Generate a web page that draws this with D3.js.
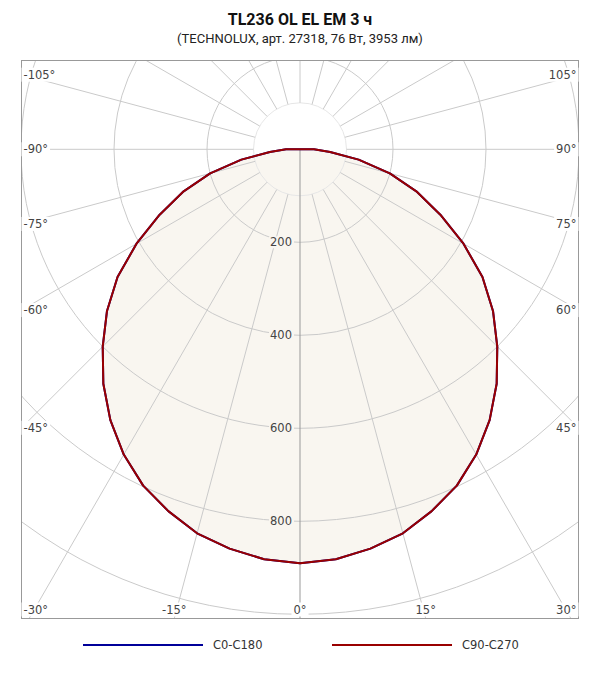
<!DOCTYPE html>
<html><head><meta charset="utf-8">
<script src="https://cdn.jsdelivr.net/npm/d3@7"></script>
<style>body{margin:0;background:#fff}svg{display:block}</style>
</head><body>
<script>
// ---- data ----
const title = "TL236 OL EL EM 3 ч";
const subtitle = "(TECHNOLUX, арт. 27318, 76 Вт, 3953 лм)";
const angles = [0,5,10,15,20,25,30,35,40,45,50,55,60,65,70,75,80,85,90];
const c0c180 = [890,885,872,855,828,798,758,711,658,600,542,479,406,333,268,200,128,65,30];
const c90c270 = [890,885,872,855,828,798,758,711,658,600,542,479,406,333,268,200,128,65,30];
const ringValues = [200,400,600,800,1000,1200];
const ringLabels = [200,400,600,800];
const angleLabels = [-105,-90,-75,-60,-45,-30,-15,0,15,30,45,60,75,90,105];
const seriesNames = ["C0-C180","C90-C270"];
const seriesColors = ["#000099","#990000"];

// ---- layout ----
const W = 600, H = 680;
const cx = 300, cy = 149.3;
const frame = {x0: 21.5, y0: 60.5, x1: 578.5, y1: 618.5};
const fillColor = "#f9f6f0";
const r = d3.scaleLinear().domain([0, 1000]).range([0, 465]);

const svg = d3.select("body").append("svg").attr("width", W).attr("height", H);

svg.append("text").attr("x", 300).attr("y", 25).attr("text-anchor", "middle")
  .attr("font-family", "Roboto").attr("font-weight", "bold").attr("font-size", 16)
  .attr("fill", "#111").text(title);
svg.append("text").attr("x", 300).attr("y", 43).attr("text-anchor", "middle")
  .attr("font-family", "Roboto").attr("font-size", 13)
  .attr("fill", "#222").text(subtitle);

svg.append("defs").append("clipPath").attr("id", "clip")
  .append("rect").attr("x", frame.x0).attr("y", frame.y0)
  .attr("width", frame.x1 - frame.x0).attr("height", frame.y1 - frame.y0);

const g = svg.append("g").attr("clip-path", "url(#clip)");
const plot = g.append("g").attr("transform", `translate(${cx},${cy})`);

// full symmetric curve from -90 to 90
function fullSeries(vals) {
  const pts = [];
  for (let i = angles.length - 1; i >= 0; i--) pts.push([-angles[i], vals[i]]);
  for (let i = 1; i < angles.length; i++) pts.push([angles[i], vals[i]]);
  return pts;
}
const toRad = a => Math.PI - a * Math.PI / 180;
const radial = d3.lineRadial().angle(d => toRad(d[0])).radius(d => r(d[1])).curve(d3.curveLinearClosed);

// fill
plot.append("path").attr("d", radial(fullSeries(c90c270))).attr("fill", fillColor).attr("stroke", "none");

// rings
plot.append("circle").attr("r", r(100)).attr("fill", "none").attr("stroke", "#e6e6e6").attr("stroke-width", 1);
plot.selectAll("circle.ring").data(ringValues).join("circle").attr("class", "ring")
  .attr("r", d => r(d)).attr("fill", "none").attr("stroke", "#cacaca").attr("stroke-width", 1);

// radial lines every 15 deg
const spokeAngles = d3.range(-165, 181, 15);
plot.selectAll("line.spoke").data(spokeAngles.filter(a => a !== 0)).join("line").attr("class", "spoke")
  .attr("x1", a => r(100) * Math.sin(a * Math.PI / 180))
  .attr("y1", a => r(100) * Math.cos(a * Math.PI / 180))
  .attr("x2", a => r(1400) * Math.sin(a * Math.PI / 180))
  .attr("y2", a => r(1400) * Math.cos(a * Math.PI / 180))
  .attr("stroke", "#cacaca").attr("stroke-width", 1);
// main axis (0 deg)
plot.append("line").attr("x1", 0).attr("y1", 0).attr("x2", 0).attr("y2", r(1400))
  .attr("stroke", "#999").attr("stroke-width", 1);

// ring labels
ringLabels.forEach(v => {
  const t = plot.append("text").attr("x", -8).attr("y", r(v)).attr("text-anchor", "end")
    .attr("dominant-baseline", "central").attr("font-family", "DejaVu Sans").attr("font-size", 11.5)
    .attr("fill", "#444").text(v);
  const bb = t.node().getBBox();
  plot.insert("rect", "text").attr("x", bb.x - 1).attr("y", bb.y + 1).attr("width", bb.width + 3)
    .attr("height", bb.height - 2).attr("fill", fillColor);
});

// curves
[c0c180, c90c270].forEach((vals, i) => {
  plot.append("path").attr("d", radial(fullSeries(vals))).attr("fill", "none")
    .attr("stroke", seriesColors[i]).attr("stroke-width", 2).attr("stroke-linejoin", "round");
});

// frame
svg.append("rect").attr("x", frame.x0).attr("y", frame.y0)
  .attr("width", frame.x1 - frame.x0).attr("height", frame.y1 - frame.y0)
  .attr("fill", "none").attr("stroke", "#999").attr("stroke-width", 1);

// angle labels
const lg = svg.append("g");
angleLabels.forEach(a => {
  const rad = a * Math.PI / 180;
  const dx = Math.sin(rad), dy = Math.cos(rad);
  let t = Infinity;
  if (dx > 1e-9) t = Math.min(t, (frame.x1 - cx) / dx);
  if (dx < -1e-9) t = Math.min(t, (frame.x0 - cx) / dx);
  if (dy > 1e-9) t = Math.min(t, (frame.y1 - cy) / dy);
  if (dy < -1e-9) t = Math.min(t, (frame.y0 - cy) / dy);
  let px = cx + dx * t, py = cy + dy * t;
  const txt = lg.append("text").attr("font-family", "DejaVu Sans").attr("font-size", 11.5)
    .attr("fill", "#444").attr("text-anchor", "middle").attr("dominant-baseline", "central").text(a + "°");
  const w = txt.node().getComputedTextLength(), h = 14;
  px = Math.max(frame.x0 + 2 + w / 2, Math.min(frame.x1 - 2 - w / 2, px));
  py = Math.max(frame.y0 + 2 + h / 2, Math.min(frame.y1 - 2 - h / 2, py));
  txt.attr("x", px).attr("y", py);
  lg.insert("rect", "text").attr("x", px - w / 2 - 2).attr("y", py - h / 2)
    .attr("width", w + 4).attr("height", h).attr("fill", "#fff");
});

// legend
const legend = svg.append("g");
const legX = [83, 332];
seriesNames.forEach((n, i) => {
  legend.append("line").attr("x1", legX[i]).attr("x2", legX[i] + 120).attr("y1", 645).attr("y2", 645)
    .attr("stroke", seriesColors[i]).attr("stroke-width", 2);
  legend.append("text").attr("x", legX[i] + 130).attr("y", 645).attr("dominant-baseline", "central")
    .attr("font-family", "DejaVu Sans").attr("font-size", 11.5).attr("fill", "#333").text(n);
});
</script>
</body></html>
